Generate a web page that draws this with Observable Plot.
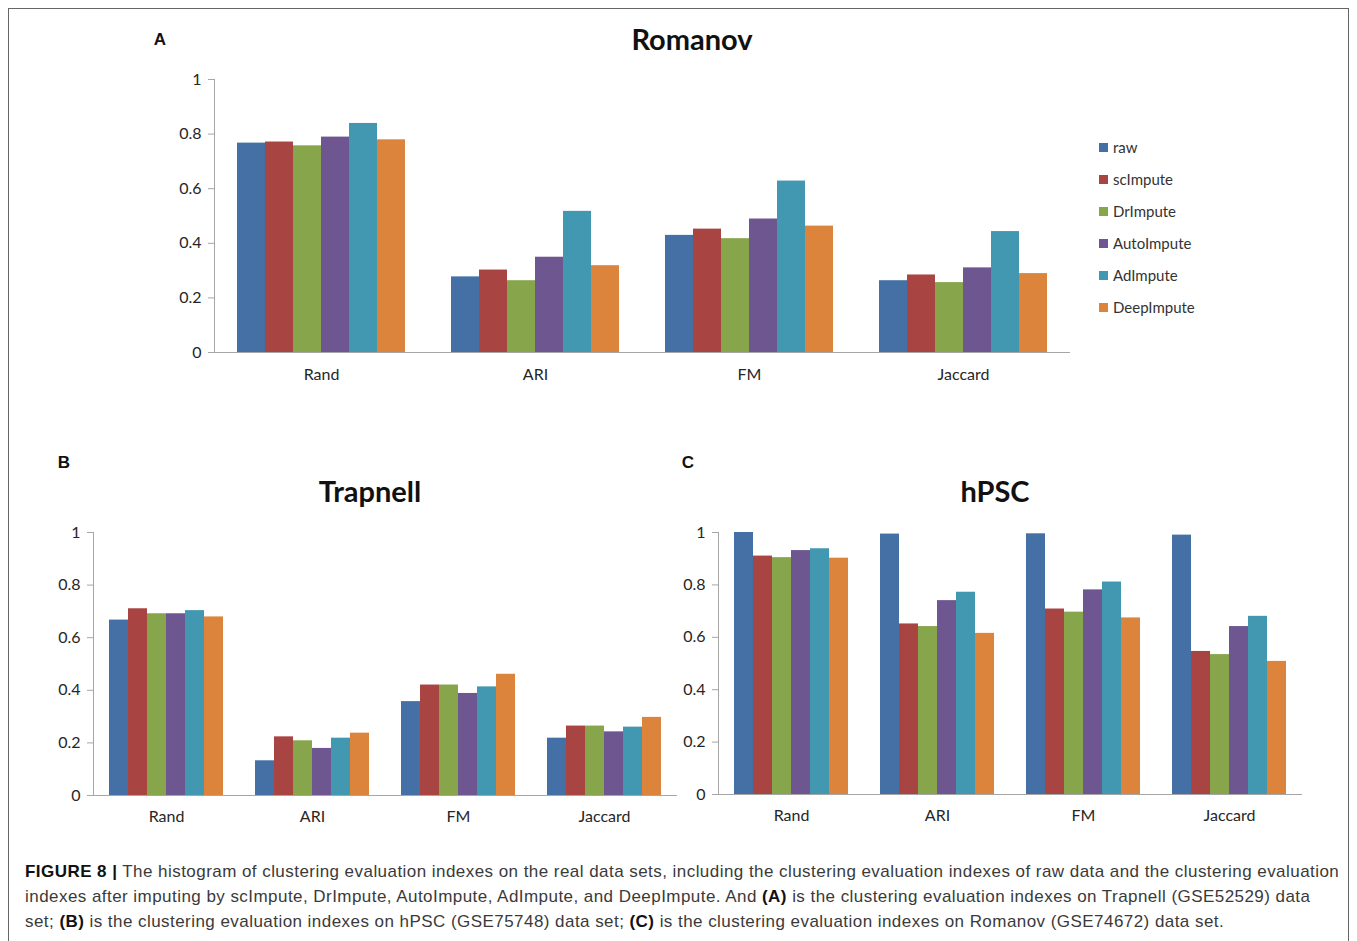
<!DOCTYPE html>
<html>
<head>
<meta charset="utf-8">
<script src="https://cdn.jsdelivr.net/npm/d3@7"></script>
<script src="https://cdn.jsdelivr.net/npm/@observablehq/plot@0.6"></script>
<style>
  html, body { margin: 0; padding: 0; background: #fff; }
  #page { position: relative; width: 1357px; height: 941px; overflow: hidden; font-family: Lato, sans-serif; }
  #frame { position: absolute; left: 8px; top: 8px; width: 1341px; height: 960px; border: 1.5px solid #666; box-sizing: border-box; }
  .chart { position: absolute; }
  .chart svg { color: #a6a6a6; background: transparent; }
  .chart svg text { fill: #262626; }
  .title { position: absolute; font-family: Lato, sans-serif; font-weight: bold; font-size: 29px; color: #111; transform: translate(-50%, -50%); white-space: nowrap; }
  .letter { position: absolute; font-family: "Liberation Sans", Arial, sans-serif; font-weight: bold; font-size: 17px; color: #111; transform: translate(-50%, -50%); }
  #legend { position: absolute; left: 1099px; top: 138px; font-family: Lato, sans-serif; font-size: 15px; color: #333; }
  #legend .item { height: 32px; display: flex; align-items: flex-start; white-space: nowrap; }
  #legend .sw { width: 9px; height: 9px; margin-top: 5px; margin-right: 5px; }
  #caption { position: absolute; left: 25px; top: 859px; font-family: "Liberation Sans", Arial, sans-serif; font-size: 17px; letter-spacing: 0.45px; line-height: 25px; color: #3a3a3a; white-space: nowrap; }
  #caption b { color: #111; }
</style>
</head>
<body>
<div id="page">
  <div id="frame"></div>
  <div class="letter" style="left:160px;top:40px">A</div>
  <div class="title" style="left:692px;top:38px">Romanov</div>
  <div class="letter" style="left:64px;top:463px">B</div>
  <div class="title" style="left:370px;top:490px">Trapnell</div>
  <div class="letter" style="left:688px;top:463px">C</div>
  <div class="title" style="left:995px;top:490px">hPSC</div>
  <div id="chartA" class="chart" style="left:140px;top:60px"></div>
  <div id="chartB" class="chart" style="left:20px;top:510px"></div>
  <div id="chartC" class="chart" style="left:644px;top:510px"></div>
  <div id="legend"></div>
  <div id="caption"><b>FIGURE 8 |</b> The histogram of clustering evaluation indexes on the real data sets, including the clustering evaluation indexes of raw data and the clustering evaluation<br>indexes after imputing by scImpute, DrImpute, AutoImpute, AdImpute, and DeepImpute. And <b>(A)</b> is the clustering evaluation indexes on Trapnell (GSE52529) data<br>set; <b>(B)</b> is the clustering evaluation indexes on hPSC (GSE75748) data set; <b>(C)</b> is the clustering evaluation indexes on Romanov (GSE74672) data set.</div>
</div>
<script>
// ---- data ----
const categories = ["Rand", "ARI", "FM", "Jaccard"];
const methods = ["raw", "scImpute", "DrImpute", "AutoImpute", "AdImpute", "DeepImpute"];
const methodColors = ["#4470a6", "#a84442", "#87a54b", "#6e5790", "#4298b1", "#dc843c"];
const yTicks = [0, 0.2, 0.4, 0.6, 0.8, 1];

// rows: categories; columns: methods
const romanovValues = [
  [0.767, 0.771, 0.757, 0.789, 0.839, 0.779],
  [0.277, 0.302, 0.263, 0.349, 0.517, 0.318],
  [0.429, 0.452, 0.417, 0.489, 0.628, 0.463],
  [0.263, 0.284, 0.256, 0.310, 0.443, 0.289]
];
const trapnellValues = [
  [0.667, 0.710, 0.691, 0.691, 0.703, 0.679],
  [0.132, 0.223, 0.208, 0.179, 0.218, 0.237],
  [0.357, 0.420, 0.420, 0.388, 0.413, 0.461],
  [0.218, 0.264, 0.264, 0.242, 0.260, 0.297]
];
const hpscValues = [
  [1.000, 0.910, 0.904, 0.931, 0.938, 0.902],
  [0.994, 0.651, 0.641, 0.740, 0.772, 0.615],
  [0.995, 0.708, 0.696, 0.781, 0.811, 0.674],
  [0.990, 0.546, 0.534, 0.641, 0.680, 0.508]
];

function toRows(values) {
  const rows = [];
  categories.forEach((c, i) => methods.forEach((m, j) => rows.push({cat: c, method: m, value: values[i][j]})));
  return rows;
}

function makeChart(values, opts) {
  const rows = toRows(values);
  return Plot.plot({
    width: opts.width,
    height: opts.height,
    marginLeft: opts.marginLeft,
    marginRight: opts.marginRight,
    marginTop: opts.marginTop,
    marginBottom: opts.marginBottom,
    style: {fontFamily: "Lato, sans-serif", fontSize: "16px", background: "transparent", overflow: "visible"},
    facet: {data: rows, x: "cat"},
    fx: {domain: categories, padding: 0, axis: "bottom", label: null, tickSize: 0, tickPadding: opts.catPad},
    x: {domain: methods, paddingInner: 0, paddingOuter: opts.outer, axis: null},
    y: {domain: [0, 1], ticks: yTicks, tickFormat: d => String(d), tickSize: 6, tickPadding: 7, line: true, label: null},
    color: {domain: methods, range: methodColors},
    marks: [
      Plot.barY(rows, {x: "method", y: "value", fill: "method", inset: 0}),
      Plot.ruleY([0], {stroke: "#a6a6a6"})
    ]
  });
}

document.getElementById("chartA").appendChild(makeChart(romanovValues, {
  width: 950, height: 327, marginLeft: 73, marginRight: 20, marginTop: 19, marginBottom: 35, outer: 0.75, catPad: 16
}));
document.getElementById("chartB").appendChild(makeChart(trapnellValues, {
  width: 667, height: 320, marginLeft: 73, marginRight: 10, marginTop: 22, marginBottom: 35, outer: 0.7, catPad: 15
}));
document.getElementById("chartC").appendChild(makeChart(hpscValues, {
  width: 669, height: 319, marginLeft: 73, marginRight: 10, marginTop: 22, marginBottom: 35, outer: 0.75, catPad: 15
}));

const legend = document.getElementById("legend");
methods.forEach((m, i) => {
  const item = document.createElement("div");
  item.className = "item";
  const sw = document.createElement("div");
  sw.className = "sw";
  sw.style.background = methodColors[i];
  const t = document.createElement("span");
  t.textContent = m;
  item.appendChild(sw);
  item.appendChild(t);
  legend.appendChild(item);
});
</script>
</body>
</html>
